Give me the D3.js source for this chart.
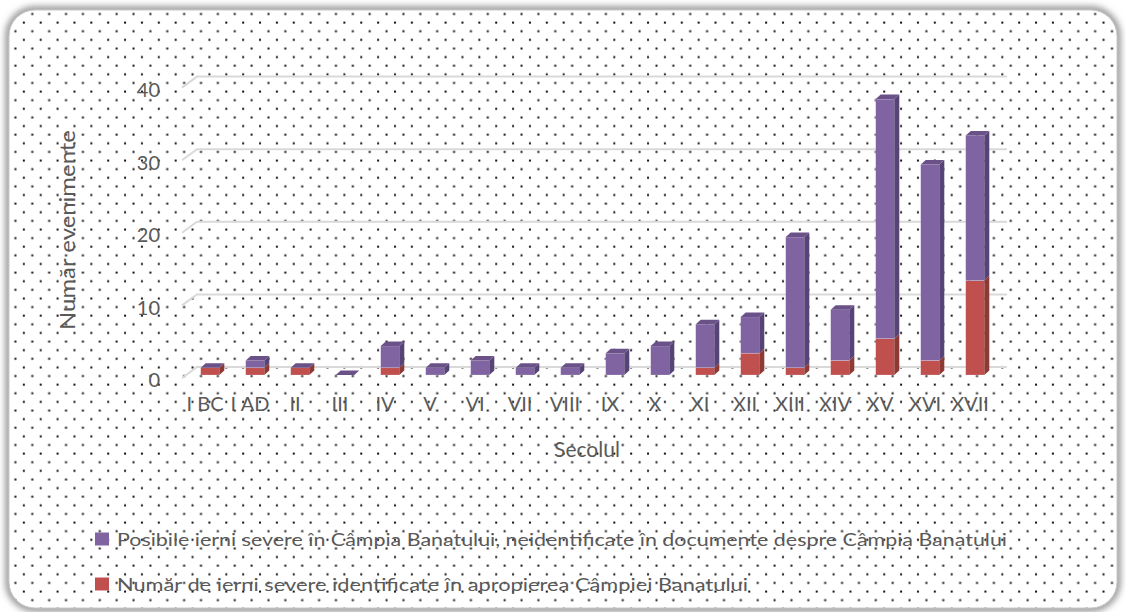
<!DOCTYPE html>
<html><head><meta charset="utf-8">
<script src="https://cdn.jsdelivr.net/npm/d3@7"></script>
<style>
html,body{margin:0;padding:0;background:#fff;}
svg{display:block;}
text{font-family:Lato,"Open Sans",sans-serif;fill:#595959;}
</style></head>
<body>
<svg id="chart" width="1126" height="612"></svg>
<script>
const categories = ["I BC","I AD","II","III","IV","V","VI","VII","VIII","IX","X","XI","XII","XIII","XIV","XV","XVI","XVII"];
const identified = [1,1,1,0,1,0,0,0,0,0,0,1,3,1,2,5,2,13];
const possible   = [0,1,0,0,3,1,2,1,1,3,4,6,5,18,7,33,27,20];
const yTicks = [0,10,20,30,40];
const seriesNames = [
  "Posibile ierni severe în Câmpia Banatului, neidentificate în documente despre Câmpia Banatului",
  "Număr de ierni severe identificate în apropierea Câmpiei Banatului"
];
const xTitle = "Secolul";
const yTitle = "Număr evenimente";

const W = 1126, H = 612;
const svg = d3.select("#chart");
const defs = svg.append("defs");

// dot pattern
const pat = defs.append("pattern").attr("id","dots").attr("patternUnits","userSpaceOnUse")
  .attr("width",16.87).attr("height",17.24);
pat.append("rect").attr("x",14.43).attr("y",13).attr("width",2).attr("height",2).attr("fill","#111");
pat.append("rect").attr("x",5.99).attr("y",4.38).attr("width",2).attr("height",2).attr("fill","#111");

const blur = defs.append("filter").attr("id","shadow").attr("x","-5%").attr("y","-5%").attr("width","110%").attr("height","110%");
blur.append("feGaussianBlur").attr("stdDeviation",3.5);

// frame
svg.append("rect").attr("x",9).attr("y",10).attr("width",1108).attr("height",598).attr("rx",26)
  .attr("fill","none").attr("stroke","#7a7a7a").attr("stroke-width",6).attr("filter","url(#shadow)");
svg.append("rect").attr("x",9).attr("y",10).attr("width",1108).attr("height",598).attr("rx",26)
  .attr("fill","#fff");
svg.append("rect").attr("x",9).attr("y",10).attr("width",1108).attr("height",598).attr("rx",26)
  .attr("fill","url(#dots)").attr("stroke","#c8c8c8").attr("stroke-width",1);

// scales
const y = d3.scaleLinear().domain([0,40]).range([375,84.6]);
const x = d3.scalePoint().domain(categories).range([210,975]);
const bw = 18.6, dx = 5, dy = 4.5;
const backOff = 8, frontOff = 3, wallLeft = 197, wallRight = 1007, floorLeft = 182;

// gridlines on back wall + left diagonal
const grid = svg.append("g");
yTicks.forEach(v => {
  grid.append("path")
    .attr("d", `M${floorLeft},${y(v)+frontOff}L${wallLeft},${y(v)-backOff}L${wallRight},${y(v)-backOff}`)
    .attr("fill","none").attr("stroke","#d9d9d9").attr("stroke-width",2);
});

// y axis labels
const yAxis = svg.append("g").attr("transform",`translate(160,5.5)`)
  .call(d3.axisLeft(y).tickValues(yTicks).tickSize(0).tickPadding(0).tickFormat(d3.format("d")));
yAxis.select(".domain").remove();
yAxis.selectAll("text").style("font-family","Lato,sans-serif").style("font-size","20px").attr("fill","#595959");

// x axis labels
const xAxis = svg.append("g").attr("transform",`translate(-5.5,397)`)
  .call(d3.axisBottom(x).tickSize(0).tickPadding(0));
xAxis.select(".domain").remove();
xAxis.selectAll("text").style("font-family","Lato,sans-serif").style("font-size","20px").attr("fill","#595959");

// bars
const colors = {
  red:{front:"#C0504D", side:"#8d3936", top:"#a8443f"},
  purple:{front:"#8064A2", side:"#574477", top:"#6a5289"}
};
const barsG = svg.append("g");
categories.forEach((c,i) => {
  const x0 = x(c) - bw/2;
  const segs = [
    {v0:0, v1:identified[i], col:colors.red},
    {v0:identified[i], v1:identified[i]+possible[i], col:colors.purple}
  ];
  const g = barsG.append("g");
  segs.forEach(s => {
    if (s.v1 > s.v0) {
      const yb = y(s.v0), yt = y(s.v1);
      g.append("rect").attr("x",x0).attr("y",yt).attr("width",bw).attr("height",yb-yt)
        .attr("fill",s.col.front).attr("stroke","rgba(255,255,255,0.35)").attr("stroke-width",0.6);
      g.append("path").attr("d",`M${x0+bw},${yt}L${x0+bw+dx},${yt-dy}L${x0+bw+dx},${yb-dy}L${x0+bw},${yb}Z`)
        .attr("fill",s.col.side);
    }
  });
  const ytop = y(identified[i]+possible[i]);
  g.append("path").attr("d",`M${x0},${ytop}L${x0+dx},${ytop-dy}L${x0+bw+dx},${ytop-dy}L${x0+bw},${ytop}Z`)
    .attr("fill",colors.purple.top);
});

// axis titles
svg.append("text").attr("transform","translate(66,230) rotate(-90)")
  .attr("text-anchor","middle").attr("dominant-baseline","central")
  .attr("textLength",200).attr("lengthAdjust","spacingAndGlyphs")
  .style("font-size","22px").text(yTitle);
svg.append("text").attr("x",587).attr("y",448).attr("text-anchor","middle").attr("dominant-baseline","central")
  .style("font-size","21px").text(xTitle);

// legend
const legendColors = [colors.purple.front, colors.red.front];
const legendY = [539, 584];
const legendW = [890, 631];
seriesNames.forEach((n,i) => {
  svg.append("rect").attr("x",95).attr("y",legendY[i]-6.5).attr("width",14).attr("height",13).attr("fill",legendColors[i]);
  svg.append("text").attr("x",117).attr("y",legendY[i]).attr("dominant-baseline","central")
    .attr("textLength",legendW[i]).attr("lengthAdjust","spacingAndGlyphs")
    .style("font-size","18px").text(n);
});
</script>
</body></html>
